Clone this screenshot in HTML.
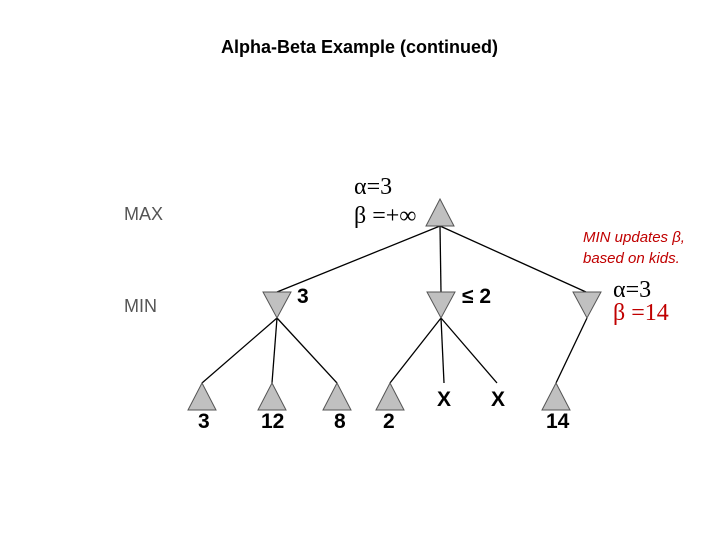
<!DOCTYPE html>
<html><head><style>
body{margin:0;width:720px;height:540px;background:#fff;position:relative;overflow:hidden;font-family:"Liberation Sans",sans-serif}
.t{position:absolute;white-space:nowrap}
</style></head><body>
<div class="t" style="left:221px;top:37px;font-size:18px;font-weight:bold">Alpha-Beta Example (continued)</div>
<div class="t" style="left:124px;top:204px;font-size:18px;color:#555">MAX</div>
<div class="t" style="left:124px;top:296px;font-size:18px;color:#555">MIN</div>
<div class="t" style="left:354px;top:174px;font-size:24px;font-family:'Liberation Serif',serif">α=3</div>
<div class="t" style="left:354px;top:203px;font-size:24px;font-family:'Liberation Serif',serif">β =+∞</div>
<div class="t" style="left:583px;top:227px;font-size:15px;font-style:italic;color:#c00000;line-height:21px">MIN updates β,<br>based on kids.</div>
<div class="t" style="left:613px;top:277px;font-size:24px;font-family:'Liberation Serif',serif">α=3</div>
<div class="t" style="left:613px;top:300px;font-size:24px;font-family:'Liberation Serif',serif;color:#c00000">β =14</div>
<svg width="720" height="540" style="position:absolute;left:0;top:0">
<g stroke="#000" stroke-width="1.3" fill="none">
<line x1="440" y1="226" x2="277" y2="292"/><line x1="440" y1="226" x2="441" y2="292"/><line x1="440" y1="226" x2="586" y2="292"/>
<line x1="277" y1="318" x2="202" y2="383"/><line x1="277" y1="318" x2="272" y2="383"/><line x1="277" y1="318" x2="337" y2="383"/>
<line x1="441" y1="318" x2="390" y2="383"/><line x1="441" y1="318" x2="444" y2="383"/><line x1="441" y1="318" x2="497" y2="383"/>
<line x1="587" y1="318" x2="556" y2="383"/>
</g>
<g fill="#c0c0c0" stroke="#555" stroke-width="1">
<polygon points="440,199 426,226 454,226"/>
<polygon points="263,292 291,292 277,318"/><polygon points="427,292 455,292 441,318"/><polygon points="573,292 601,292 587,318"/>
<polygon points="202,383 188,410 216,410"/><polygon points="272,383 258,410 286,410"/><polygon points="337,383 323,410 351,410"/><polygon points="390,383 376,410 404,410"/><polygon points="556,383 542,410 570,410"/>
</g>
</svg>
<div class="t" style="left:297px;top:285px;font-size:21px;font-weight:bold">3</div>
<div class="t" style="left:462px;top:285px;font-size:21px;font-weight:bold">≤ 2</div>
<div class="t" style="left:437px;top:388px;font-size:21px;font-weight:bold">X</div>
<div class="t" style="left:491px;top:388px;font-size:21px;font-weight:bold">X</div>
<div class="t" style="left:198px;top:410px;font-size:21px;font-weight:bold">3</div>
<div class="t" style="left:261px;top:410px;font-size:21px;font-weight:bold">12</div>
<div class="t" style="left:334px;top:410px;font-size:21px;font-weight:bold">8</div>
<div class="t" style="left:383px;top:410px;font-size:21px;font-weight:bold">2</div>
<div class="t" style="left:546px;top:410px;font-size:21px;font-weight:bold">14</div>
</body></html>
